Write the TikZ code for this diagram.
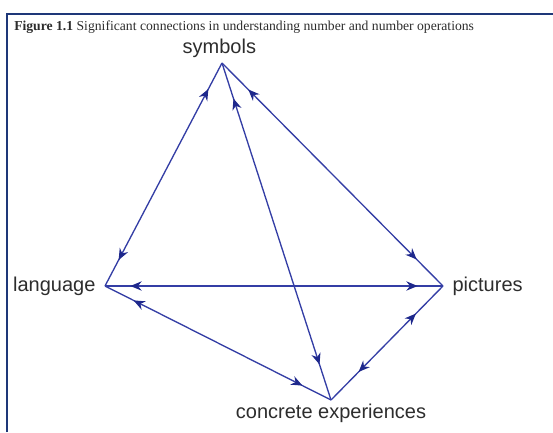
\documentclass[tikz,border=0pt]{standalone}
\usepackage{fontspec}
\setmainfont{Liberation Serif}
\newfontfamily\labelfont{Liberation Sans}
\usetikzlibrary{arrows.meta, decorations.markings, positioning}
\definecolor{edgeblue}{RGB}{52,62,165}
\definecolor{tipblue}{RGB}{30,40,140}
\definecolor{framenavy}{RGB}{30,55,120}
\definecolor{labelgray}{RGB}{45,45,45}

\begin{document}
\begin{tikzpicture}[x=0.75pt, y=-0.75pt]

% TikZ styles
\tikzset{
  corner/.style={font=\labelfont\fontsize{15}{18}\selectfont, text=labelgray, inner sep=0pt},
  twoway/.style={draw=edgeblue, line width=1pt, postaction={decorate},
    decoration={markings,
      mark=at position #1 with {\arrowreversed{Stealth[length=8.5pt, width=7pt, color=tipblue]}},
      mark=at position -#1 with {\arrow{Stealth[length=8.5pt, width=7pt, color=tipblue]}}}},
  twoway/.default=24pt
}
\useasboundingbox (0,0) rectangle (553,432);

% Rahmen und Titel
\draw[framenavy, line width=1.6pt] (7,432) -- (7,14) -- (553,14);
\node[anchor=base west, text=labelgray, inner sep=0pt, font=\fontsize{10.25}{12}\selectfont] (caption) at (14,31)
  {\textbf{Figure 1.1} Significant connections in understanding number and number operations};

% Ecken
\coordinate (sym)  at (222,63);
\coordinate (lang) at (105,286);
\coordinate (pict) at (443,286);
\coordinate (conc) at (331,400);

\node[corner, above=4pt of sym, xshift=-2pt] (symlabel) {symbols};
\node[corner, left=7pt of lang] (langlabel) {language};
\node[corner, right=7pt of pict] (pictlabel) {pictures};
\node[corner, below=3pt of conc] (conclabel) {concrete experiences};

% Verbindungen
\draw[twoway=22pt] (sym) -- (lang);
\draw[twoway=28pt] (sym) -- (conc);
\draw[twoway=28pt] (sym) -- (pict);
\draw[twoway=19pt] (lang) -- (pict);
\draw[twoway=24pt] (lang) -- (conc);
\draw[twoway=29pt] (pict) -- (conc);
\end{tikzpicture}
\end{document}
